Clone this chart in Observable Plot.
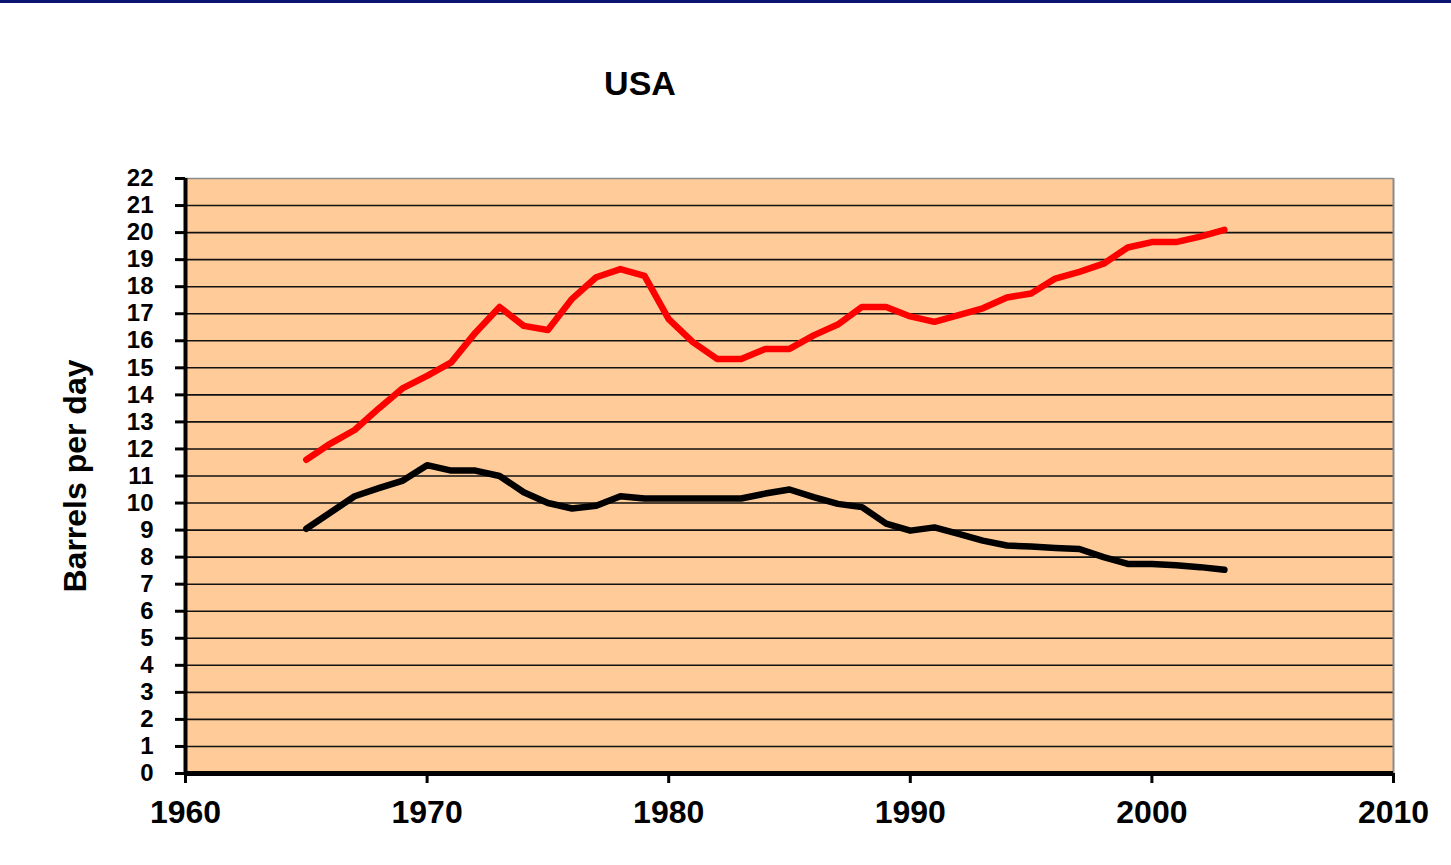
<!DOCTYPE html>
<html>
<head>
<meta charset="utf-8">
<script src="https://cdn.jsdelivr.net/npm/d3@7"></script>
<script src="https://cdn.jsdelivr.net/npm/@observablehq/plot@0.6"></script>
<style>
  html, body { margin: 0; padding: 0; background: #ffffff; width: 1451px; height: 865px; overflow: hidden; }
  #band { position: absolute; left: 0; top: 0; width: 1451px; height: 3px; background: #0b1470; }
  #title { position: absolute; left: 640px; top: 66px; transform: translateX(-50%);
           font-family: "Liberation Sans", Arial, sans-serif; font-weight: bold; font-size: 34px; line-height: 34px; color: #000; }
  #chart { position: absolute; left: 0; top: 153px; }
</style>
</head>
<body>
<div id="band"></div>
<div id="title">USA</div>
<div id="chart"></div>
<script>
// Years
const years = [1965,1966,1967,1968,1969,1970,1971,1972,1973,1974,1975,1976,1977,1978,1979,
               1980,1981,1982,1983,1984,1985,1986,1987,1988,1989,1990,1991,1992,1993,1994,
               1995,1996,1997,1998,1999,2000,2001,2002,2003];
// Consumption (red), million barrels per day
const consumption = [11.6,12.2,12.7,13.5,14.25,14.7,15.2,16.3,17.25,16.55,16.4,17.55,18.35,18.65,18.4,
                     16.8,15.95,15.33,15.33,15.7,15.7,16.2,16.6,17.25,17.25,16.9,16.7,16.95,17.2,17.6,
                     17.75,18.3,18.55,18.85,19.45,19.65,19.65,19.85,20.1];
// Production (black)
const production = [9.05,9.65,10.25,10.55,10.83,11.4,11.2,11.2,11.0,10.4,10.0,9.8,9.9,10.25,10.17,
                    10.17,10.17,10.17,10.17,10.35,10.5,10.22,9.97,9.85,9.24,8.98,9.1,8.86,8.61,8.43,
                    8.39,8.34,8.3,8.0,7.75,7.75,7.7,7.63,7.53];
const xTicks = [1960,1970,1980,1990,2000,2010];
const yTicks = d3.range(0, 23);
const gridValues = d3.range(1, 22);
const yLabel = "Barrels per day";

const consData = years.map((y, i) => ({year: y, value: consumption[i]}));
const prodData = years.map((y, i) => ({year: y, value: production[i]}));

const chart = Plot.plot({
  width: 1451,
  height: 712,
  marginTop: 25,
  marginBottom: 92,
  marginLeft: 185,
  marginRight: 58,
  style: { fontFamily: "'Liberation Sans', Arial, sans-serif", fontWeight: "bold", color: "#000", background: "transparent", overflow: "visible" },
  x: { domain: [1960, 2010] },
  y: { domain: [0, 22] },
  marks: [
    Plot.frame({ fill: "#FFCC99", stroke: null }),
    Plot.ruleY(gridValues, { stroke: "#111", strokeWidth: 1.6 }),
    Plot.ruleY([22], { stroke: "#8a8a8a", strokeWidth: 1.5 }),
    Plot.ruleX([2010], { stroke: "#8a8a8a", strokeWidth: 2 }),
    Plot.line(prodData, { x: "year", y: "value", stroke: "#000", strokeWidth: 6.5, strokeLinejoin: "round", strokeLinecap: "round" }),
    Plot.line(consData, { x: "year", y: "value", stroke: "#FF0000", strokeWidth: 6.5, strokeLinejoin: "round", strokeLinecap: "round" }),
    Plot.axisY({ ticks: yTicks, tickSize: 10, tickPadding: 22, tickFormat: d => String(d), fontSize: 24, fontWeight: "bold", strokeWidth: 3, label: null }),
    Plot.axisX({ ticks: xTicks, tickSize: 10, tickPadding: 17, tickFormat: d => String(d), fontSize: 32, fontWeight: "bold", strokeWidth: 3, label: null }),
    Plot.ruleX([1960], { stroke: "#000", strokeWidth: 4 }),
    Plot.ruleY([0], { stroke: "#000", strokeWidth: 5 }),
    Plot.text([yLabel], { frameAnchor: "left", dx: -110, rotate: -90, textAnchor: "middle", text: d => d, fontSize: 32, fontWeight: "bold", fill: "#000" })
  ]
});
document.getElementById("chart").appendChild(chart);
</script>
</body>
</html>
